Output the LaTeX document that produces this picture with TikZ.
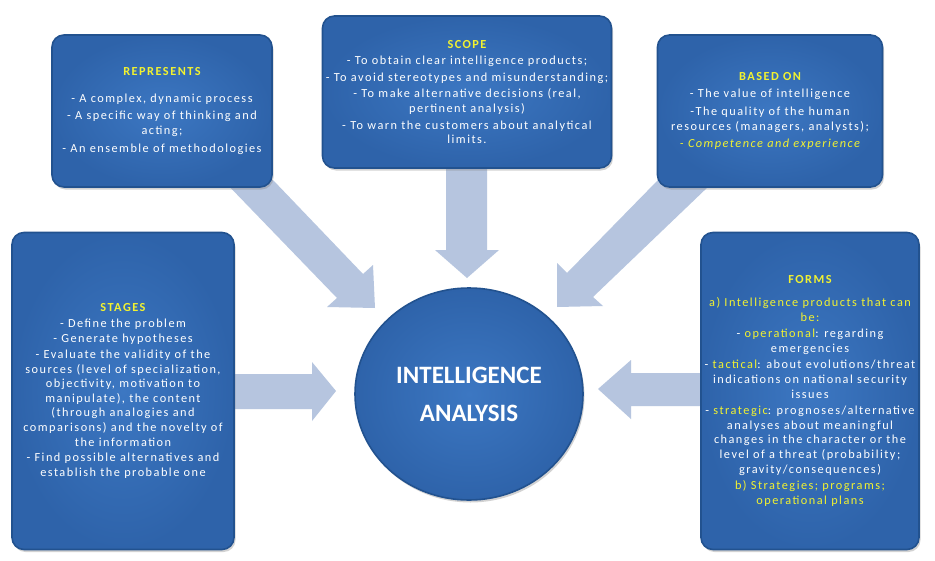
\documentclass[tikz,border=0pt]{standalone}
\usepackage{fontspec}
\setmainfont[LetterSpace=12]{Carlito}
\newfontfamily\bigfont{Carlito}
\usetikzlibrary{shadows,shapes.geometric}
\definecolor{boxblue}{HTML}{3C77C2}
\definecolor{boxdark}{HTML}{2E63AA}
\definecolor{boxedge}{HTML}{22528F}
\definecolor{arrowgray}{HTML}{B6C5DF}
\definecolor{hdryellow}{HTML}{F2F230}
\newcommand\hdr[1]{\textcolor{hdryellow}{#1}}
\tikzset{
  infobox/.style={rounded corners=12pt, inner color=boxblue, outer color=boxdark,
    draw=boxedge, line width=1.6pt, text=white, align=center,
    font=\fontsize{12.3}{14.6}\selectfont,
    drop shadow={shadow xshift=1.5pt, shadow yshift=-2.5pt, opacity=0.35}},
  hub/.style={ellipse, inner color=boxblue, outer color=boxdark, draw=boxedge,
    line width=1.6pt, text=white, align=center,
    font=\bigfont\bfseries\fontsize{25}{38}\selectfont,
    drop shadow={shadow xshift=1.5pt, shadow yshift=-2.5pt, opacity=0.35}},
  blockarrow/.style={fill=arrowgray}
}
\begin{document}
\begin{tikzpicture}[x=1pt,y=-1pt]
\useasboundingbox[fill=white] (0,0) rectangle (935,560);

% block arrows (behind the boxes)
\fill[blockarrow] (223,180) -- (273,180) -- (363,274) -- (373,265) -- (375,308)
  -- (327,307) -- (337,298) -- cycle;
\fill[blockarrow] (446,160) -- (487,160) -- (487,250) -- (499,250) -- (467,278)
  -- (435,250) -- (446,250) -- cycle;
\fill[blockarrow] (658,180) -- (710,185) -- (593,297) -- (603,306) -- (557,307)
  -- (557,263) -- (567,273) -- cycle;
\fill[blockarrow] (230,374) -- (312,374) -- (312,362) -- (336,391) -- (312,421)
  -- (312,409) -- (230,409) -- cycle;
\fill[blockarrow] (705,373) -- (631,373) -- (631,360) -- (598,389) -- (631,419)
  -- (631,406) -- (705,406) -- cycle;

% boxes
\node[infobox, minimum width=220pt, minimum height=152pt] (rep) at (162,111)
 {\hdr{\bfseries REPRESENTS}\\[12pt]
  - A complex, dynamic process\\[3pt]
  - A specific way of thinking and\\ acting;\\[3pt]
  - An ensemble of methodologies};

\node[infobox, minimum width=286pt, minimum height=152pt] (scope) at (467,92)
 {\hdr{\bfseries SCOPE}\\[2pt]
  - To obtain clear intelligence products;\\[2pt]
  - To avoid stereotypes and misunderstanding;\\[2pt]
  - To make alternative decisions (real,\\ pertinent analysis)\\[2pt]
  - To warn the customers about analytical\\ limits.};

\node[infobox, minimum width=225pt, minimum height=152pt] (based) at (770,111)
 {\hdr{\bfseries BASED ON}\\[3pt]
  - The value of intelligence\\[3pt]
  -The quality of the human\\ resources (managers, analysts);\\[3pt]
  \hdr{\itshape - Competence and experience}};

\node[infobox, minimum width=222pt, minimum height=317pt] (stages) at (123,391)
 {\hdr{\bfseries STAGES}\\[1pt]
  - Define the problem\\[1pt]
  - Generate hypotheses\\[1pt]
  - Evaluate the validity of the\\ sources (level of specialization,\\
  objectivity, motivation to\\ manipulate), the content\\
  (through analogies and\\ comparisons) and the novelty of\\ the information\\[1pt]
  - Find possible alternatives and\\ establish the probable one};

\node[infobox, minimum width=218pt, minimum height=317pt] (forms) at (810,391)
 {\hdr{\bfseries FORMS}\\[8pt]
  \hdr{a) Intelligence products that can}\\ \hdr{be:}\\[2pt]
  - \hdr{operational}: regarding\\ emergencies\\[2pt]
  - \hdr{tactical}: about evolutions/threat\\ indications on national security\\ issues\\[2pt]
  - \hdr{strategic}: prognoses/alternative\\ analyses about meaningful\\
  changes in the character or the\\ level of a threat (probability;\\
  gravity/consequences)\\[2pt]
  \hdr{b) Strategies; programs;}\\ \hdr{operational plans}};

% central ellipse
\node[hub, minimum width=228pt, minimum height=212pt] (ia) at (469,394)
 {INTELLIGENCE\\ANALYSIS};
\end{tikzpicture}
\end{document}
